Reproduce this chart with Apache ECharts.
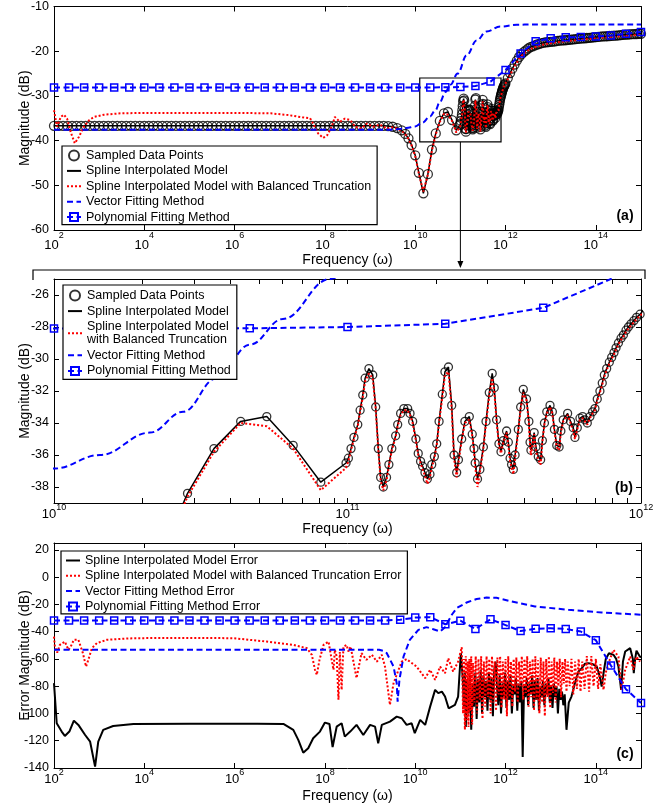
<!DOCTYPE html>
<html>
<head>
<meta charset="utf-8">
<script src="https://cdn.jsdelivr.net/npm/echarts@6/dist/echarts.min.js"></script>
<style>
  html, body { margin: 0; padding: 0; background: #fff; }
  #chart { width: 672px; height: 808px; }
</style>
</head>
<body>
<div id="chart"></div>
<script>
// frequencies are stored as log10(omega), magnitudes in dB

// sampled data points (panel a and b)
const sampledLogW = [
  2.0, 2.1, 2.2, 2.3, 2.4, 2.5, 2.6, 2.7, 2.8, 2.9,
  3.0, 3.1, 3.2, 3.3, 3.4, 3.5, 3.6, 3.7, 3.8, 3.9,
  4.0, 4.1, 4.2, 4.3, 4.4, 4.5, 4.6, 4.7, 4.8, 4.9,
  5.0, 5.1, 5.2, 5.3, 5.4, 5.5, 5.6, 5.7, 5.8, 5.9,
  6.0, 6.1, 6.2, 6.3, 6.4, 6.5, 6.6, 6.7, 6.8, 6.9,
  7.0, 7.1, 7.2, 7.3, 7.4, 7.5, 7.6, 7.7, 7.8, 7.9,
  8.0, 8.1, 8.2, 8.3, 8.4, 8.5, 8.6, 8.7, 8.8, 8.9,
  9.0, 9.1, 9.2, 9.3,
  9.4, 9.5, 9.6, 9.7, 9.78, 9.85, 9.92, 10.0, 10.08, 10.18, 10.28, 10.37,
  10.455, 10.545, 10.636, 10.725, 10.815, 10.909, 10.995, 11.003, 11.012, 11.022,
  11.035, 11.043, 11.052, 11.060, 11.073, 11.086, 11.096, 11.105, 11.113, 11.122,
  11.133, 11.141, 11.151, 11.164, 11.171, 11.181, 11.192, 11.205, 11.213, 11.222,
  11.233, 11.241, 11.249, 11.256, 11.264, 11.272, 11.281, 11.287, 11.296, 11.304,
  11.312, 11.323, 11.332, 11.344, 11.355, 11.363, 11.372, 11.378, 11.389, 11.400,
  11.415, 11.425, 11.431, 11.435, 11.443, 11.451, 11.463, 11.472, 11.483, 11.493,
  11.500, 11.508, 11.516, 11.523, 11.531, 11.542, 11.548, 11.554, 11.559, 11.565,
  11.571, 11.582, 11.590, 11.599, 11.610, 11.618, 11.622, 11.625, 11.636, 11.642,
  11.650, 11.658, 11.664, 11.671, 11.679, 11.690, 11.698, 11.705, 11.713, 11.721,
  11.727, 11.735, 11.750, 11.760, 11.769, 11.775, 11.783, 11.792, 11.801, 11.809,
  11.817, 11.826, 11.835, 11.843, 11.851, 11.860, 11.868, 11.875, 11.883, 11.892,
  11.900, 11.908, 11.915, 11.923, 11.932, 11.940, 11.949, 11.957, 11.966, 11.976,
  11.985, 11.997,
  12.05, 12.1, 12.15, 12.2, 12.25, 12.3, 12.35, 12.4, 12.45, 12.5,
  12.55, 12.6, 12.65, 12.7, 12.75, 12.8, 12.85, 12.9, 12.95, 13.0,
  13.05, 13.1, 13.15, 13.2, 13.25, 13.3, 13.35, 13.4, 13.45, 13.5,
  13.55, 13.6, 13.65, 13.7, 13.75, 13.8, 13.85, 13.9, 13.95, 14.0,
  14.05, 14.1, 14.15, 14.2, 14.25, 14.3, 14.35, 14.4, 14.45, 14.5,
  14.55, 14.6, 14.65, 14.7, 14.75, 14.8, 14.85, 14.9, 14.95, 15.0
];
const sampledDb = [
  -36.7, -36.7, -36.7, -36.7, -36.7, -36.7, -36.7, -36.7, -36.7, -36.7,
  -36.7, -36.7, -36.7, -36.7, -36.7, -36.7, -36.7, -36.7, -36.7, -36.7,
  -36.7, -36.7, -36.7, -36.7, -36.7, -36.7, -36.7, -36.7, -36.7, -36.7,
  -36.7, -36.7, -36.7, -36.7, -36.7, -36.7, -36.7, -36.7, -36.7, -36.7,
  -36.7, -36.7, -36.7, -36.7, -36.7, -36.7, -36.7, -36.7, -36.7, -36.7,
  -36.7, -36.7, -36.7, -36.7, -36.7, -36.7, -36.7, -36.7, -36.7, -36.7,
  -36.7, -36.7, -36.7, -36.7, -36.7, -36.7, -36.7, -36.7, -36.7, -36.7,
  -36.7, -36.7, -36.7, -36.7,
  -36.75, -36.9, -37.2, -37.7, -38.5, -39.5, -41.0, -43.3, -47.2, -51.8, -47.5, -42.0,
  -38.4, -35.6, -33.9, -33.6, -35.4, -37.7, -36.5, -36.2, -35.6, -34.9,
  -34.1, -33.2, -32.25, -31.2, -30.6, -31.0, -33.0, -35.6, -37.4, -38.0,
  -37.4, -36.6, -35.6, -34.8, -34.1, -33.4, -33.1, -33.1, -33.4, -33.9,
  -35.0, -35.9, -36.4, -36.7, -37.1, -37.5, -37.2, -36.6, -36.1, -35.3,
  -33.9, -32.2, -30.8, -30.5, -32.9, -36.0, -37.1, -36.3, -35.0, -33.9,
  -33.6, -34.7, -35.6, -36.5, -37.5, -36.9, -35.5, -33.9, -32.1, -30.9,
  -31.8, -33.8, -35.3, -35.8, -35.1, -34.5, -35.2, -36.2, -36.6, -36.9,
  -36.0, -34.4, -33.0, -31.9, -32.5, -33.9, -35.2, -35.7, -34.6, -35.5,
  -36.1, -36.3, -35.1, -34.0, -33.3, -32.9, -33.3, -34.4, -35.4, -35.5,
  -34.5, -33.8, -33.4, -33.9, -34.3, -34.9, -34.3, -33.7, -33.6, -33.8,
  -34.0, -33.6, -33.3, -33.1, -32.5, -32.0, -31.5, -31.0, -30.6, -30.2,
  -29.9, -29.6, -29.3, -29.0, -28.7, -28.5, -28.2, -28.0, -27.8, -27.6,
  -27.4, -27.2,
  -26.0, -24.9, -23.9, -23.0, -22.1, -21.3, -20.7, -20.2, -19.8, -19.4,
  -19.1, -18.9, -18.7, -18.5, -18.35, -18.2, -18.1, -18.0, -17.95, -17.9,
  -17.85, -17.8, -17.7, -17.65, -17.6, -17.55, -17.5, -17.45, -17.4, -17.35,
  -17.3, -17.25, -17.2, -17.15, -17.1, -17.05, -17.0, -16.95, -16.9, -16.85,
  -16.8, -16.75, -16.7, -16.7, -16.65, -16.6, -16.55, -16.5, -16.5, -16.45,
  -16.4, -16.35, -16.3, -16.3, -16.25, -16.2, -16.2, -16.15, -16.1, -16.1
];

// spline model with balanced truncation
const btLogW = [
  2.0, 2.04, 2.07, 2.15, 2.22, 2.29, 2.37, 2.46, 2.55, 2.66,
  2.78, 2.89, 3.11, 3.48, 4.0, 5.0, 6.0, 6.8, 7.2, 7.5,
  7.67, 7.74, 7.85, 7.96, 8.05, 8.15, 8.22, 8.33, 8.44, 8.56,
  8.67, 8.81, 8.93, 9.07, 9.22, 9.37, 9.5, 9.6, 9.7, 9.78,
  9.85, 9.92, 10.0, 10.08, 10.18, 10.28, 10.37, 10.455, 10.545, 10.636,
  10.725, 10.815, 10.909, 10.995, 11.003, 11.012, 11.022, 11.035, 11.043, 11.052,
  11.060, 11.073, 11.086, 11.096, 11.105, 11.113, 11.122, 11.133, 11.141, 11.151,
  11.164, 11.171, 11.181, 11.192, 11.205, 11.213, 11.222, 11.233, 11.241, 11.249,
  11.256, 11.264, 11.272, 11.281, 11.287, 11.296, 11.304, 11.312, 11.323, 11.332,
  11.344, 11.355, 11.363, 11.372, 11.378, 11.389, 11.400, 11.415, 11.425, 11.431,
  11.435, 11.443, 11.451, 11.463, 11.472, 11.483, 11.493, 11.500, 11.508, 11.516,
  11.523, 11.531, 11.542, 11.548, 11.554, 11.559, 11.565, 11.571, 11.582, 11.590,
  11.599, 11.610, 11.618, 11.622, 11.625, 11.636, 11.642, 11.650, 11.658, 11.664,
  11.671, 11.679, 11.690, 11.698, 11.705, 11.713, 11.721, 11.727, 11.735, 11.750,
  11.760, 11.769, 11.775, 11.783, 11.792, 11.801, 11.809, 11.817, 11.826, 11.835,
  11.843, 11.851, 11.860, 11.868, 11.875, 11.883, 11.892, 11.900, 11.908, 11.915,
  11.923, 11.932, 11.940, 11.949, 11.957, 11.966, 11.976, 11.985, 11.997, 12.1,
  12.2, 12.3, 12.4, 12.5, 12.6, 12.8, 13.0, 13.3, 13.6, 14.0,
  14.5, 15.0
];
const btDb = [
  -33.2, -35.4, -36.9, -34.7, -34.2, -35.1, -38.1, -40.6, -39.2, -36.9,
  -35.4, -34.7, -34.2, -33.9, -33.8, -33.8, -33.8, -33.9, -34.3, -34.8,
  -35.0, -36.2, -38.4, -39.4, -38.8, -36.9, -34.7, -35.8, -35.1, -35.4,
  -36.9, -37.3, -36.2, -36.9, -36.4, -37.3, -37.0, -37.3, -37.8, -38.6,
  -39.6, -41.1, -43.5, -47.4, -51.4, -47.6, -42.2, -38.6, -35.8, -34.0,
  -34.2, -35.6, -38.2, -36.8, -36.4, -35.7, -35.0, -34.2, -33.3, -32.4,
  -31.4, -30.9, -31.2, -33.1, -35.7, -37.6, -38.2, -37.6, -36.7, -35.7,
  -34.9, -34.2, -33.5, -33.2, -33.2, -33.5, -34.0, -35.1, -36.0, -36.5,
  -36.9, -37.3, -37.8, -37.4, -36.8, -36.2, -35.4, -34.0, -32.4, -31.0,
  -30.8, -33.1, -36.2, -37.4, -36.5, -35.1, -34.0, -33.8, -34.8, -35.8,
  -36.7, -38.0, -37.1, -35.6, -34.0, -32.3, -31.2, -32.0, -33.9, -35.4,
  -35.9, -35.2, -34.6, -35.4, -36.4, -36.8, -37.2, -36.2, -34.5, -33.1,
  -32.1, -32.6, -34.0, -35.4, -36.0, -34.7, -35.7, -36.3, -36.6, -35.2,
  -34.1, -33.4, -33.0, -33.4, -34.5, -35.5, -35.7, -34.6, -33.9, -33.5,
  -34.0, -34.5, -35.0, -34.4, -33.8, -33.7, -33.9, -34.1, -33.7, -33.4,
  -33.2, -32.6, -32.1, -31.6, -31.1, -30.7, -30.3, -30.0, -29.7, -29.4,
  -29.1, -28.8, -28.6, -28.3, -28.1, -27.9, -27.7, -27.5, -27.3, -25.3,
  -23.4, -21.7, -20.6, -19.8, -19.3, -18.6, -18.2, -17.8, -17.5, -17.1,
  -16.7, -16.3
];

// vector fitting model
const vfLogW = [2.0, 9.0, 9.4, 9.6, 9.8, 10.0, 10.157, 10.327, 10.44, 10.554,
  10.668, 10.78, 10.94, 11.14, 11.36, 11.58, 11.88, 12.25, 12.6, 15.0];
const vfDb = [-37.6, -37.6, -37.55, -37.45, -37.2, -36.85, -36.0, -34.6, -33.3, -31.2,
  -29.1, -27.5, -25.0, -20.9, -17.6, -15.6, -14.5, -14.1, -14.0, -14.0];

// polynomial fitting model, 40 points
const polyLogW = [2, 2.333, 2.667, 3, 3.333, 3.667, 4, 4.333, 4.667, 5,
  5.333, 5.667, 6, 6.333, 6.667, 7, 7.333, 7.667, 8, 8.333,
  8.667, 9, 9.333, 9.667, 10, 10.333, 10.667, 11, 11.333, 11.667,
  12, 12.333, 12.667, 13, 13.333, 13.667, 14, 14.333, 14.667, 15];
const polyDb = [-28.1, -28.1, -28.1, -28.1, -28.1, -28.1, -28.1, -28.1, -28.1, -28.1,
  -28.1, -28.1, -28.1, -28.1, -28.1, -28.1, -28.1, -28.1, -28.1, -28.1,
  -28.1, -28.1, -28.1, -28.1, -28.1, -28.1, -28.08, -28.0, -27.8, -26.8,
  -24.2, -20.5, -17.8, -17.1, -16.9, -16.85, -16.7, -16.5, -16.1, -15.7];

// errors (panel c)
const errSplineLogW = [
  2.0, 2.06, 2.17, 2.24, 2.34, 2.44, 2.54, 2.69, 2.8, 2.91,
  2.98, 3.09, 3.31, 3.76, 5.0, 6.5, 7.08, 7.3, 7.41, 7.52,
  7.63, 7.74, 7.89, 8.0, 8.1, 8.17, 8.26, 8.37, 8.44, 8.56,
  8.70, 8.85, 9.0, 9.11, 9.18, 9.26, 9.44, 9.59, 9.70, 9.81,
  9.92, 9.99, 10.11, 10.22, 10.33, 10.44, 10.51, 10.59, 10.66, 10.74,
  10.88, 10.95, 11.01, 11.05, 11.08, 11.10, 11.12, 11.15, 11.18, 11.21,
  11.24, 11.27, 11.30, 11.33, 11.36, 11.39, 11.42, 11.45, 11.48, 11.51,
  11.54, 11.57, 11.60, 11.63, 11.66, 11.69, 11.72, 11.75, 11.78, 11.81,
  11.84, 11.87, 11.90, 11.93, 11.96, 11.99, 12.02, 12.05, 12.08, 12.11,
  12.14, 12.17, 12.20, 12.23, 12.26, 12.29, 12.32, 12.35, 12.38, 12.41,
  12.44, 12.47, 12.50, 12.53, 12.56, 12.59, 12.62, 12.65, 12.68, 12.71,
  12.74, 12.77, 12.80, 12.83, 12.86, 12.89, 12.92, 12.95, 12.98, 13.01,
  13.04, 13.07, 13.10, 13.13, 13.16, 13.19, 13.22, 13.25, 13.28, 13.31,
  13.35, 13.40, 13.46, 13.55, 13.62, 13.69, 13.76, 13.83, 13.93, 14.02,
  14.08, 14.13, 14.17, 14.22, 14.29, 14.39, 14.45, 14.5, 14.56, 14.6,
  14.65, 14.76, 14.82, 14.84, 14.87, 14.9, 14.97, 15.0
];
const errSplineDb = [
  -77.8, -107.2, -113.3, -116.5, -113.3, -105.3, -108.4, -115.8, -120.7, -139,
  -120.7, -112, -109.2, -107.7, -107.5, -107.6, -107.7, -112, -119.4, -128.8,
  -125.5, -118.2, -113.3, -106.7, -107.7, -124.6, -109.7, -107.2, -117, -113.3,
  -108.4, -115.8, -108.4, -109.7, -121.9, -108.4, -106, -102.3, -103.5, -108.4,
  -107.2, -114.5, -104.7, -108.4, -95, -82.7, -85.1, -84, -87.6, -96.2,
  -93.7, -87.6, -55.8, -73, -96, -70, -110, -75, -100, -72,
  -112, -78, -95, -70, -104, -75, -92, -68, -100, -72,
  -88, -76, -98, -70, -90, -74, -102, -68, -62, -80,
  -94, -72, -100, -78, -88, -70, -96, -76, -90, -72,
  -100, -80, -86, -74, -98, -78, -92, -76, -132, -80,
  -88, -74, -94, -78, -86, -72, -96, -76, -90, -74,
  -98, -80, -88, -76, -94, -78, -86, -74, -92, -80,
  -96, -78, -88, -80, -100, -82, -90, -84, -94, -86,
  -112, -92, -87.6, -76, -69, -66.8, -63.5, -63.1, -63.8, -65.6,
  -72, -80.3, -70.5, -60, -55.8, -57, -60, -65.6, -82.7, -62,
  -54.6, -52.1, -60, -70.5, -60, -54, -58, -59
];

const errBtLogW = [
  2.0, 2.02, 2.07, 2.13, 2.24, 2.32, 2.37, 2.44, 2.54, 2.64,
  2.71, 2.76, 2.84, 2.95, 3.17, 3.76, 5.0, 5.97, 6.71, 7.3,
  7.6, 7.71, 7.78, 7.82, 7.88, 7.97, 8.08, 8.15, 8.19, 8.22,
  8.26, 8.30, 8.33, 8.37, 8.41, 8.48, 8.52, 8.57, 8.70, 8.81,
  8.92, 9.04, 9.15, 9.26, 9.33, 9.44, 9.52, 9.63, 9.70, 9.81,
  9.88, 10.03, 10.22, 10.33, 10.44, 10.55, 10.66, 10.73, 10.84, 10.95,
  11.03, 11.06, 11.08, 11.10, 11.12, 11.14, 11.16, 11.18, 11.20, 11.22,
  11.24, 11.26, 11.28, 11.31, 11.34, 11.37, 11.40, 11.43, 11.46, 11.49,
  11.52, 11.55, 11.58, 11.61, 11.64, 11.67, 11.70, 11.73, 11.76, 11.79,
  11.82, 11.85, 11.88, 11.91, 11.94, 11.97, 12.00, 12.03, 12.06, 12.09,
  12.12, 12.15, 12.18, 12.21, 12.24, 12.27, 12.30, 12.33, 12.36, 12.39,
  12.42, 12.45, 12.48, 12.51, 12.54, 12.57, 12.60, 12.63, 12.66, 12.69,
  12.72, 12.75, 12.78, 12.81, 12.84, 12.87, 12.90, 12.93, 12.96, 12.99,
  13.02, 13.05, 13.08, 13.11, 13.14, 13.17, 13.20, 13.23, 13.26, 13.29,
  13.32, 13.35, 13.38, 13.42, 13.46, 13.50, 13.54, 13.58, 13.62, 13.66,
  13.70, 13.75, 13.80, 13.85, 13.90, 13.95, 14.00, 14.05, 14.10, 14.17,
  14.22, 14.28, 14.39, 14.5, 14.57, 14.65, 14.76, 14.83, 14.9, 14.98
];
const errBtDb = [
  -43.6, -51, -55.4, -49.7, -47.3, -53.4, -51, -46, -46, -55.8,
  -65.6, -60.7, -52.1, -48.4, -46, -44.8, -44.6, -44.8, -47.3, -49.7,
  -52.1, -57, -68, -71.7, -60.7, -49.7, -47.3, -60.7, -68, -53.4,
  -58, -90, -55, -82.7, -51, -49.7, -54.6, -51, -74.1, -55.8,
  -60.7, -57, -62, -57, -65.6, -93.7, -77.8, -68, -62, -60.2,
  -62, -65.6, -74.1, -68, -75.4, -65.6, -70.5, -59.5, -69.3, -62,
  -51.4, -100, -60, -112, -58, -105, -62, -110, -60, -98,
  -58, -108, -63, -92, -58, -100, -60, -90, -58, -104,
  -62, -95, -58, -88, -60, -100, -58, -92, -62, -98,
  -59, -86, -58, -96, -62, -90, -60, -102, -58, -88,
  -62, -95, -60, -84, -59, -92, -62, -80, -58, -90,
  -60, -85, -58, -95, -62, -88, -60, -98, -58, -90,
  -61, -100, -59, -92, -62, -102, -60, -88, -58, -96,
  -62, -85, -59, -92, -62, -80, -60, -88, -62, -78,
  -60, -84, -62, -80, -60, -86, -62, -82, -60, -84,
  -62, -82, -58, -84, -58, -80, -60, -82, -64, -82.7,
  -70, -63.1, -53.4, -58.3, -82.7, -68, -58.3, -68, -58.3, -62
];

const errVfLogW = [2.0, 9.2, 9.3, 9.37, 9.52, 9.59, 9.61, 9.65, 9.74, 9.88,
  10.07, 10.25, 10.4, 10.55, 10.66, 10.81, 10.92, 11.14, 11.36, 11.58,
  11.8, 12.14, 12.65, 13.39, 14.13, 15.0];
const errVfDb = [-53.3, -53.3, -54.2, -55.8, -65.6, -77.8, -91.3, -75.4, -58.3, -46.0,
  -38.7, -36.7, -38.2, -39.9, -36.7, -27.6, -22.7, -18.6, -16.1, -15.0,
  -15.2, -17.9, -21.5, -24.0, -26.0, -27.6];

const errPolyDb = [-31.8, -31.8, -31.8, -31.8, -31.8, -31.8, -31.8, -31.8, -31.8, -31.8,
  -31.8, -31.8, -31.8, -31.8, -31.8, -31.8, -31.8, -31.8, -31.8, -31.8,
  -31.8, -31.8, -31.8, -31.3, -29.7, -29.4, -34.6, -32.0, -38.0, -31.0,
  -35.2, -39.6, -37.9, -37.5, -38.0, -39.9, -46.3, -64.8, -82.2, -92.3];

// tick values
const decadeTicksWide = [2, 4, 6, 8, 10, 12, 14];
const decadeTicksZoom = [10, 11, 12];
const zoomMinorMantissa = [2, 3, 4, 5, 6, 7, 8, 9];
const magTicksWide = [-60, -50, -40, -30, -20, -10];
const magTicksZoom = [-38, -36, -34, -32, -30, -28, -26];
const errTicks = [-140, -120, -100, -80, -60, -40, -20, 0, 20];

const FONT = '"Liberation Sans", Arial, Helvetica, sans-serif';
const BLUE = '#0000ff';
const RED = '#ff0000';
const NOFILL = 'rgba(0,0,0,0)';

const pairs = (xs, ys) => xs.map((x, i) => [x, ys[i]]);

// minor ticks of the zoomed panel at 2..9 x 10^n
const zoomTickVals = decadeTicksZoom.slice();
[10, 11].forEach(n => zoomMinorMantissa.forEach(m => zoomTickVals.push(n + Math.log10(m))));

function xAxisPair(gridIndex, min, max, labelVals, tickVals, lab) {
  const mk = (pos) => ({
    type: 'value', gridIndex, min, max, position: pos,
    splitLine: { show: false },
    axisLine: { show: true, onZero: false, lineStyle: { color: '#000', width: 1 } },
    axisTick: { show: true, inside: true, length: 5, customValues: tickVals, lineStyle: { color: '#000', width: 1 } },
    axisLabel: pos === 'top' ? { show: false } : {
      customValues: labelVals, margin: lab.margin,
      formatter: v => '{b|10}{e|' + Math.round(v) + '}',
      rich: {
        b: { fontFamily: FONT, fontSize: 13, color: '#000', lineHeight: lab.lh, verticalAlign: 'bottom' },
        e: { fontFamily: FONT, fontSize: 9, color: '#000', lineHeight: 8, verticalAlign: 'top' }
      }
    },
    name: pos === 'top' ? '' : 'Frequency (\u03c9)',
    nameLocation: 'middle', nameGap: lab.nameGap,
    nameTextStyle: { fontFamily: FONT, fontSize: 14, color: '#000' }
  });
  return [mk('bottom'), mk('top')];
}

function yAxisPair(gridIndex, min, max, ticks, name) {
  const mk = (pos) => ({
    type: 'value', gridIndex, min, max, position: pos,
    splitLine: { show: false },
    axisLine: { show: true, onZero: false, lineStyle: { color: '#000', width: 1 } },
    axisTick: { show: true, inside: true, length: 5, customValues: ticks, lineStyle: { color: '#000', width: 1 } },
    axisLabel: pos === 'right' ? { show: false } : {
      customValues: ticks, margin: 5,
      fontFamily: FONT, fontSize: 12.5, color: '#000'
    },
    name: pos === 'right' ? '' : name,
    nameLocation: 'middle', nameGap: 22, nameRotate: 90, nameMoveOverlap: false,
    nameTextStyle: { fontFamily: FONT, fontSize: 14, color: '#000' }
  });
  return [mk('left'), mk('right')];
}

const xAxes = [].concat(
  xAxisPair(0, 2, 15, decadeTicksWide, decadeTicksWide, { margin: 1, lh: 21, nameGap: 17 }),
  xAxisPair(1, 10, 12, decadeTicksZoom, zoomTickVals, { margin: 0, lh: 18, nameGap: 12 }),
  xAxisPair(2, 2, 15, decadeTicksWide, decadeTicksWide, { margin: 0, lh: 18, nameGap: 21 })
);
const yAxes = [].concat(
  yAxisPair(0, -60, -10, magTicksWide, 'Magnitude (dB)'),
  yAxisPair(1, -39, -25, magTicksZoom, 'Magnitude (dB)'),
  yAxisPair(2, -140, 25, errTicks, 'Error Magnitude (dB)')
);

const N_DATA = 'Sampled Data Points';
const N_SPL = 'Spline Interpolated Model';
const N_BT = 'Spline Interpolated Model with Balanced Truncation';
const N_VF = 'Vector Fitting Method';
const N_POLY = 'Polynomial Fitting Method';

// line without markers; the hidden, transparent symbol keeps the legend icon a plain line
function plainLine(name, ax, xs, ys, lineStyle, extra) {
  return Object.assign({
    name, type: 'line', xAxisIndex: ax, yAxisIndex: ax, clip: true,
    symbol: 'circle', symbolSize: 1, showSymbol: false,
    itemStyle: { color: NOFILL, borderWidth: 0 },
    lineStyle, data: pairs(xs, ys)
  }, extra || {});
}

function squareLine(name, ax, xs, ys) {
  return {
    name, type: 'line', xAxisIndex: ax, yAxisIndex: ax, clip: true,
    symbol: 'rect', symbolSize: 7, showSymbol: true,
    lineStyle: { color: BLUE, width: 2, type: [6, 3.5] },
    itemStyle: { color: NOFILL, borderColor: BLUE, borderWidth: 1.5 },
    data: pairs(xs, ys)
  };
}

function modelSeries(ax, circleSize, withBox) {
  const vf = plainLine(N_VF, ax, vfLogW, vfDb, { color: BLUE, width: 2, type: [6, 3.5] },
    { smooth: 0.4, smoothMonotone: 'x' });
  if (withBox) {
    vf.markArea = {
      silent: true,
      itemStyle: { color: NOFILL, borderColor: '#000', borderWidth: 1.2 },
      data: [[{ coord: [10.1, -26] }, { coord: [11.9, -40.3] }]]
    };
  }
  return [
    {
      name: N_DATA, type: 'scatter', xAxisIndex: ax, yAxisIndex: ax,
      symbol: 'circle', symbolSize: circleSize, clip: true,
      itemStyle: { color: NOFILL, borderColor: '#000', borderWidth: 1.3 },
      data: pairs(sampledLogW, sampledDb)
    },
    plainLine(N_SPL, ax, sampledLogW, sampledDb, { color: '#000', width: 1.5 }),
    plainLine(N_BT, ax, btLogW, btDb, { color: RED, width: 2, type: [2, 2] }),
    vf,
    squareLine(N_POLY, ax, polyLogW, polyDb)
  ];
}

const series = [].concat(
  modelSeries(0, 9, true),
  modelSeries(2, 8, false),
  [
    plainLine('Spline Interpolated Model Error', 4, errSplineLogW, errSplineDb, { color: '#000', width: 2 }),
    plainLine('Spline Interpolated Model with Balanced Truncation Error', 4, errBtLogW, errBtDb,
      { color: RED, width: 2, type: [2, 2] }),
    plainLine('Vector Fitting Method Error', 4, errVfLogW, errVfDb, { color: BLUE, width: 2, type: [6, 3.5] }),
    squareLine('Polynomial Fitting Method Error', 4, polyLogW, errPolyDb)
  ]
);

const legendBase = {
  orient: 'vertical', selectedMode: false,
  backgroundColor: '#fff', borderColor: '#000', borderWidth: 1.2, borderRadius: 0,
  itemWidth: 14, itemHeight: 10,
  textStyle: { fontFamily: FONT, fontSize: 12.5, color: '#000', lineHeight: 13 }
};

const chart = echarts.init(document.getElementById('chart'), null, { renderer: 'canvas' });
chart.setOption({
  animation: false,
  backgroundColor: '#fff',
  grid: [
    { left: 54, top: 6, width: 587, height: 224 },
    { left: 54, top: 279, width: 587, height: 224 },
    { left: 54, top: 543, width: 587, height: 225 }
  ],
  xAxis: xAxes,
  yAxis: yAxes,
  legend: [
    Object.assign({}, legendBase, {
      left: 62, top: 146, padding: [3, 6, 1, 4], itemGap: 2.4,
      data: [N_DATA, N_SPL, N_BT, N_VF, N_POLY]
    }),
    Object.assign({}, legendBase, {
      left: 63, top: 285, padding: [4, 6, 2, 4], itemGap: 2.6,
      formatter: n => n === N_BT ? 'Spline Interpolated Model\nwith Balanced Truncation' : n,
      data: [N_DATA, N_SPL, N_BT, N_VF, N_POLY]
    }),
    Object.assign({}, legendBase, {
      left: 61, top: 551, padding: [3, 6, 1, 4], itemGap: 2.3,
      data: ['Spline Interpolated Model Error',
        'Spline Interpolated Model with Balanced Truncation Error',
        'Vector Fitting Method Error', 'Polynomial Fitting Method Error']
    })
  ],
  series: series
});

// zoom marker: arrow from the box in (a) to the bracket over (b)
const p = chart.convertToPixel({ xAxisIndex: 0, yAxisIndex: 0 }, [11, -40.3]);
const labelStyle = { font: 'bold 14px ' + FONT, fill: '#000', textAlign: 'center', textVerticalAlign: 'middle' };
chart.setOption({
  graphic: [
    { type: 'line', shape: { x1: p[0], y1: p[1], x2: p[0], y2: 262 }, style: { stroke: '#000', lineWidth: 1 } },
    { type: 'polygon', shape: { points: [[p[0] - 3, 261], [p[0] + 3, 261], [p[0], 268]] }, style: { fill: '#000' } },
    { type: 'polyline', shape: { points: [[33, 280], [33, 270], [645, 270], [645, 279]] }, style: { stroke: '#000', lineWidth: 1.2, fill: null } },
    { type: 'text', x: 625, y: 216.5, style: Object.assign({ text: '(a)' }, labelStyle) },
    { type: 'text', x: 624, y: 488.5, style: Object.assign({ text: '(b)' }, labelStyle) },
    { type: 'text', x: 625, y: 754, style: Object.assign({ text: '(c)' }, labelStyle) }
  ]
});
</script>
</body>
</html>
